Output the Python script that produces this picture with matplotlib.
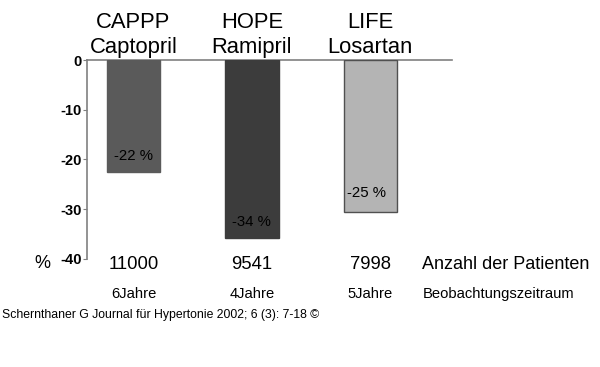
import matplotlib.pyplot as plt

plt.rcParams["font.family"] = ["Liberation Sans", "DejaVu Sans"]

studies = ["CAPPP", "HOPE", "LIFE"]
drugs = ["Captopril", "Ramipril", "Losartan"]
bar_values = [-22.5, -35.8, -30.5]
bar_labels = ["-22 %", "-34 %", "-25 %"]
patients = ["11000", "9541", "7998"]
durations = ["6Jahre", "4Jahre", "5Jahre"]
colors = ["#5a5a5a", "#3c3c3c", "#b4b4b4"]
yticks = [0, -10, -20, -30, -40]

fig = plt.figure(figsize=(6, 3.67), dpi=100)
ax = fig.add_axes([0.145, 0.2943, 0.6083, 0.5422])

x = list(range(len(studies)))
ax.bar(x, bar_values, width=0.45, color=colors,
       edgecolor=["#5a5a5a", "#3c3c3c", "#505050"], linewidth=1)
ax.set_xlim(-0.393, 2.69)
ax.set_ylim(-40, 0)
ax.axhline(0, color="#808080", linewidth=1.2, clip_on=False, zorder=0)

for s in ["top", "right", "bottom"]:
    ax.spines[s].set_visible(False)
ax.spines["left"].set_color("#808080")
ax.spines["left"].set_linewidth(1.2)
ax.set_xticks([])
ax.set_yticks(yticks)
ax.set_yticklabels([str(t) for t in yticks], fontweight="bold", fontsize=10.5)
ax.tick_params(axis="y", length=3, color="#808080", pad=1)

label_y = [-19.3, -32.5, -26.8]
for i in x:
    ax.text(i, 7.6, studies[i], ha="center", va="center", fontsize=15.8, clip_on=False)
    ax.text(i, 2.6, drugs[i], ha="center", va="center", fontsize=15.8, clip_on=False)
    ax.text(i - 0.03 * (i == 2), label_y[i], bar_labels[i], ha="center", va="center", fontsize=10.8)
    ax.text(i, -41.2, patients[i], ha="center", va="center", fontsize=13.3, clip_on=False)
    ax.text(i, -47, durations[i], ha="center", va="center", fontsize=10.6, clip_on=False)

ax.text(2.44, -41.2, "Anzahl der Patienten", ha="left", va="center", fontsize=13, clip_on=False)
ax.text(2.44, -47, "Beobachtungszeitraum", ha="left", va="center", fontsize=10.6, clip_on=False)
fig.text(42 / 600, 1 - 263 / 367, "%", ha="center", va="center", fontsize=13)
fig.text(0.003, 1 - 315 / 367, "Schernthaner G Journal für Hypertonie 2002; 6 (3): 7-18 ©",
         ha="left", va="center", fontsize=8.8)

fig.savefig("out.png", dpi=100)
